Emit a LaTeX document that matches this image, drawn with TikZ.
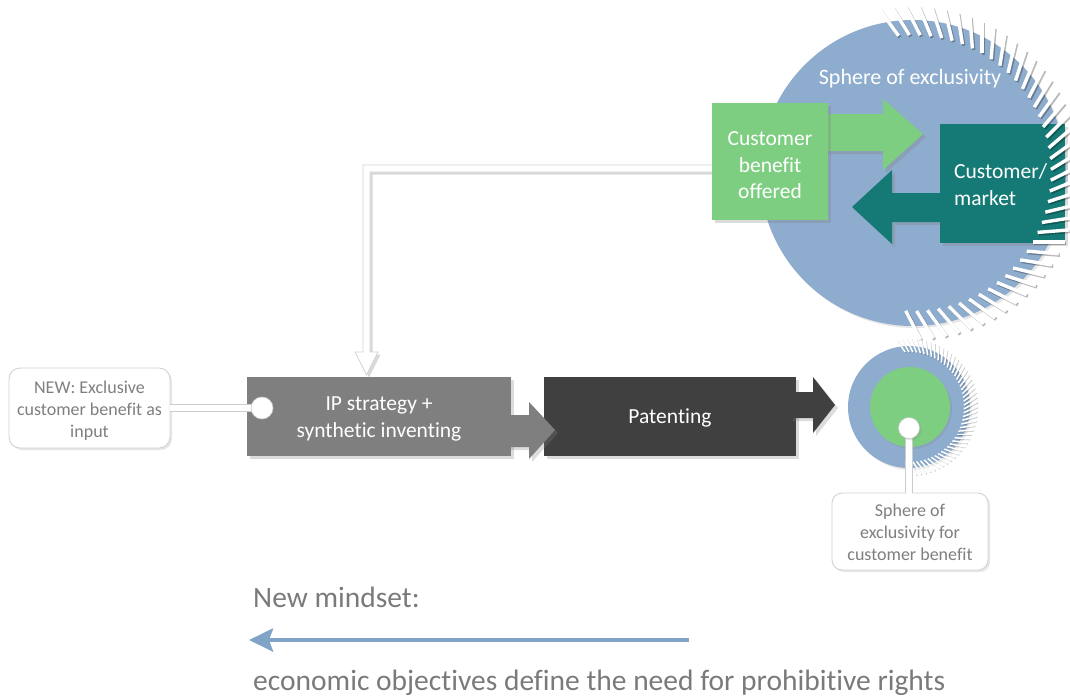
\documentclass[tikz,border=0pt]{standalone}
\usepackage{fontspec}
\setmainfont{Carlito}[Ligatures=NoCommon]
\usetikzlibrary{shadows,arrows.meta}
\definecolor{sphere}{RGB}{142,172,205}
\definecolor{cgreen}{RGB}{126,206,130}
\definecolor{cteal}{RGB}{21,122,118}
\definecolor{ipgray}{RGB}{127,127,127}
\definecolor{patdark}{RGB}{64,64,64}
\definecolor{txtgray}{RGB}{122,122,122}
\definecolor{arrowblue}{RGB}{130,163,200}
\begin{document}
\begin{tikzpicture}[x=1pt,y=-1pt,
  shd/.style={drop shadow={opacity=0.28,shadow xshift=3pt,shadow yshift=-3pt}},
  lightshd/.style={drop shadow={opacity=0.2,shadow xshift=2pt,shadow yshift=-2pt}},
  mainfont/.style={font=\fontsize{21.5}{26.5}\selectfont},
  smallfont/.style={font=\fontsize{18}{22}\selectfont},
  block/.style={draw=none,inner sep=0pt,shd},
  blocktext/.style={inner sep=0pt,align=center,text=white,mainfont},
  callout/.style={draw=gray!35,line width=0.9pt,fill=white,rounded corners=11pt,inner sep=0pt,lightshd},
  callouttext/.style={inner sep=0pt,align=center,text=ipgray,smallfont},
  tickw/.style={draw=white,line width=3.4pt},
  ticks/.style={draw=black,opacity=0.28,line width=3.4pt},
  tickwsm/.style={draw=white,line width=1.5pt},
  tickssm/.style={draw=black,opacity=0.2,line width=1.5pt},
  dotstyle/.style={circle,fill=white,draw=gray!40,line width=0.6pt,minimum size=22pt,inner sep=0pt,lightshd},
  wireout/.style={draw=gray!40,line width=7.5pt},
  wirein/.style={draw=white,line width=5.5pt}
]
\useasboundingbox (0,0) rectangle (1070,697);

% big sphere
\fill[sphere,lightshd] (913,173) circle[radius=153pt];
\node[text=white,font=\fontsize{22}{26}\selectfont] (sphtitle) at (910,79) {Sphere of exclusivity};

% feedback arrow (white, outlined)
\draw[fill=white,draw=gray!35,line width=0.8pt,drop shadow={opacity=0.3,shadow xshift=2.5pt,shadow yshift=-2.5pt}]
  (720,165) -- (363,165) -- (363,352) -- (355,352) -- (366.5,375) -- (378,352)
  -- (370,352) -- (370,172) -- (720,172) -- cycle;

% green arrow + box
\fill[cgreen,shd] (820,114) -- (883,114) -- (883,99) -- (923,134) -- (883,170) -- (883,151) -- (820,151) -- cycle;
\node[block,fill=cgreen,minimum width=116pt,minimum height=117pt] (cbo) at (770,161.5) {};
\node[blocktext] (cbotext) at ([yshift=-4pt]cbo.center) {Customer\\benefit\\offered};

% teal arrow + box
\fill[cteal,shd] (945,193) -- (892,193) -- (892,170) -- (852,207) -- (892,244) -- (892,222) -- (945,222) -- cycle;
\node[block,fill=cteal,minimum width=125pt,minimum height=119pt] (cm) at (1002.5,183.5) {};
\node[blocktext,align=left,anchor=west] (cmtext) at (954,184.5) {Customer/\\market};

% ticks on big sphere
\begin{scope}[shift={(913,173)},y=1pt]
  \foreach \a in {96,91.5,...,-96} {
    \draw[ticks,xshift=1.3pt,yshift=-1.5pt] (\a:138) -- ++(\a+30:32);
    \draw[tickw] (\a:138) -- ++(\a+30:32);
  }
\end{scope}

% left callout, IP box
\node[callout,minimum width=161pt,minimum height=80pt] (newbox) at (89.5,408) {};
\node[callouttext] (newtext) at ([yshift=-3pt]newbox.center) {NEW: Exclusive\\customer benefit as\\input};
\node[block,fill=ipgray,minimum width=264pt,minimum height=79pt] (ip) at (379,416.5) {};
\node[blocktext] (iptext) at ([yshift=-2.5pt]ip.center) {IP strategy +\\synthetic inventing};
\node[coordinate] (dotA) at (262,408) {};
\draw[wireout] (newbox.east) -- (dotA);
\draw[wirein] (newbox.east) -- (dotA);
\node[dotstyle] (dotnode1) at (dotA) {};

% patenting
\node[block,fill=patdark,minimum width=252pt,minimum height=79pt] (pat) at (670,416.5) {};
\node[blocktext] (pattext) at ([yshift=-1.5pt]pat.center) {Patenting};
\fill[ipgray,shd] (505,415) -- (529,415) -- (529,402) -- (555,430) -- (529,459) -- (529,447) -- (505,447) -- cycle;
\fill[patdark,shd] (790,392) -- (813,392) -- (813,377) -- (835,405) -- (813,433) -- (813,418) -- (790,418) -- cycle;

% small sphere
\fill[sphere,lightshd] (909,407) circle[radius=61pt];
\begin{scope}[shift={(909,407)},y=1pt]
  \foreach \a in {94,90,...,-94} {
    \draw[tickssm,xshift=0.7pt,yshift=-0.8pt] (\a:55) -- ++(\a+30:15);
    \draw[tickwsm] (\a:55) -- ++(\a+30:15);
  }
\end{scope}
\fill[cgreen,lightshd] (910,407) circle[radius=40pt];
\node[callout,rounded corners=10pt,minimum width=156pt,minimum height=77pt] (lbl) at (910,531.5) {};
\node[callouttext] (lbltext) at ([yshift=-0.5pt]lbl.center) {Sphere of\\exclusivity for\\customer benefit};
\node[coordinate] (dotB) at (909,428) {};
\draw[wireout] (dotB) -- (lbl.north -| dotB);
\draw[wirein] (dotB) -- ([yshift=-1pt]lbl.north -| dotB);
\node[dotstyle,minimum size=21pt] (dotnode2) at (dotB) {};

% new mindset
\node[anchor=base west,inner sep=0pt,text=txtgray,font=\fontsize{29.5}{33}\selectfont] (mind) at (253,607) {New mindset:};
\node[coordinate] (arrS) at (689,640) {};
\node[coordinate] (arrE) at (249,640) {};
\draw[arrowblue,line width=4.5pt,-{Stealth[length=24pt,width=23pt,inset=4pt]},lightshd] (arrS) -- (arrE);
\node[anchor=base west,inner sep=0pt,text=txtgray,font=\fontsize{29.5}{33}\selectfont] (econ) at (253,690) {economic objectives define the need for prohibitive rights};
\end{tikzpicture}
\end{document}
